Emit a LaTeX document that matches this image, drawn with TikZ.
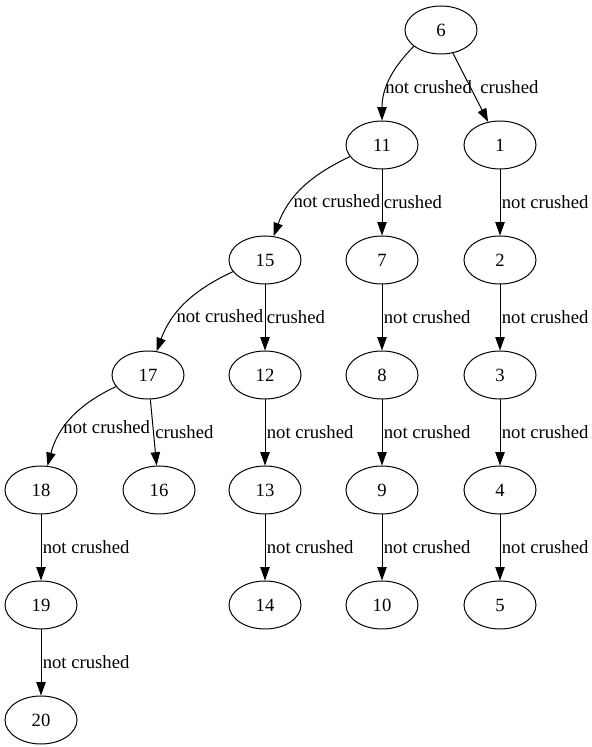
\documentclass[tikz,border=0pt]{standalone}
\usepackage{fontspec}
\setmainfont{Liberation Serif}
\usetikzlibrary{shapes.geometric,arrows.meta}

\begin{document}
\begin{tikzpicture}[
    x=0.75pt, y=0.75pt,
    every node/.style={font=\fontsize{14pt}{16pt}\selectfont},
    state/.style={draw, ellipse, minimum width=54pt, minimum height=36pt, inner sep=0pt, line width=0.75pt},
    edge/.style={draw, line width=0.75pt, -{Triangle[length=10pt,width=7pt]}},
    lbl/.style={anchor=west, inner sep=1pt}
]
\useasboundingbox (0,0) rectangle (592,747);
% states
\node[state] (n6) at (441,717) {6};
\node[state] (n11) at (382,602) {11};
\node[state] (n1) at (500,602) {1};
\node[state] (n15) at (265,487) {15};
\node[state] (n7) at (382,487) {7};
\node[state] (n2) at (500,487) {2};
\node[state] (n17) at (148,372) {17};
\node[state] (n12) at (265,372) {12};
\node[state] (n8) at (382,372) {8};
\node[state] (n3) at (500,372) {3};
\node[state] (n18) at (41,257) {18};
\node[state] (n16) at (159,257) {16};
\node[state] (n13) at (265,257) {13};
\node[state] (n9) at (382,257) {9};
\node[state] (n4) at (500,257) {4};
\node[state] (n19) at (41,142) {19};
\node[state] (n14) at (265,142) {14};
\node[state] (n10) at (382,142) {10};
\node[state] (n5) at (500,142) {5};
\node[state] (n20) at (41,27) {20};
% curved edges
\draw[edge] (n6.-149) to[out=-135,in=90] node[lbl,pos=0.6,xshift=-2.5pt] {not crushed} (n11);
\draw[edge] (n11.-160) to[out=-155,in=70] node[lbl,pos=0.66] {not crushed} (n15);
\draw[edge] (n15.-160) to[out=-155,in=70] node[lbl,pos=0.66] {not crushed} (n17);
\draw[edge] (n17.-160) to[out=-155,in=75] node[lbl,pos=0.62,xshift=-2pt] {not crushed} (n18);
% straight edges
\draw[edge] (n6) -- node[lbl,pos=0.5,xshift=6pt] {crushed} (n1);
\draw[edge] (n11) -- node[lbl,pos=0.5] {crushed} (n7);
\draw[edge] (n15) -- node[lbl,pos=0.5] {crushed} (n12);
\draw[edge] (n17) -- node[lbl,pos=0.5] {crushed} (n16);
\draw[edge] (n18) -- node[lbl,pos=0.5] {not crushed} (n19);
\draw[edge] (n19) -- node[lbl,pos=0.5] {not crushed} (n20);
\draw[edge] (n12) -- node[lbl,pos=0.5] {not crushed} (n13);
\draw[edge] (n13) -- node[lbl,pos=0.5] {not crushed} (n14);
\draw[edge] (n7) -- node[lbl,pos=0.5] {not crushed} (n8);
\draw[edge] (n8) -- node[lbl,pos=0.5] {not crushed} (n9);
\draw[edge] (n9) -- node[lbl,pos=0.5] {not crushed} (n10);
\draw[edge] (n1) -- node[lbl,pos=0.5] {not crushed} (n2);
\draw[edge] (n2) -- node[lbl,pos=0.5] {not crushed} (n3);
\draw[edge] (n3) -- node[lbl,pos=0.5] {not crushed} (n4);
\draw[edge] (n4) -- node[lbl,pos=0.5] {not crushed} (n5);
\end{tikzpicture}
\end{document}
